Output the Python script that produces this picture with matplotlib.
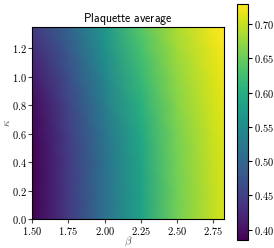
import numpy as np
import matplotlib
matplotlib.use('Agg')
import matplotlib.pyplot as plt
from matplotlib.ticker import FuncFormatter

plt.rcParams['mathtext.fontset'] = 'cm'

# grid: plaquette average vs beta (columns) and kappa (rows)
beta = [1.50, 1.75, 2.00, 2.25, 2.50, 2.75, 2.825]
kappa = [0.0, 0.2, 0.4, 0.6, 0.8, 1.0, 1.2, 1.35]
plaq = [
    [0.385, 0.443, 0.512, 0.582, 0.655, 0.698, 0.707],
    [0.385, 0.443, 0.512, 0.582, 0.655, 0.698, 0.707],
    [0.386, 0.444, 0.513, 0.584, 0.656, 0.699, 0.708],
    [0.388, 0.447, 0.517, 0.590, 0.659, 0.701, 0.710],
    [0.395, 0.454, 0.530, 0.602, 0.665, 0.705, 0.713],
    [0.410, 0.466, 0.543, 0.615, 0.672, 0.710, 0.718],
    [0.428, 0.481, 0.556, 0.628, 0.680, 0.716, 0.724],
    [0.443, 0.493, 0.566, 0.638, 0.686, 0.721, 0.729],
]

xticks = [1.50, 1.75, 2.00, 2.25, 2.50, 2.75]
yticks = [0.0, 0.2, 0.4, 0.6, 0.8, 1.0, 1.2]
cticks = [0.40, 0.45, 0.50, 0.55, 0.60, 0.65, 0.70]


def mfmt(fmt):
    return FuncFormatter(lambda v, p: '$' + fmt.format(v) + '$')


fig = plt.figure(figsize=(2.74, 2.48), dpi=100)
ax = fig.add_axes([0.117, 0.117, 0.701, 0.774])
cax = fig.add_axes([0.865, 0.032, 0.040, 0.952])

B, K = np.meshgrid(beta, kappa)
Z = np.array(plaq)
mesh = ax.pcolormesh(B, K, Z, shading='gouraud', cmap='viridis',
                     vmin=0.385, vmax=0.729)
ax.set_xlim(beta[0], beta[-1])
ax.set_ylim(kappa[0], kappa[-1])
ax.set_xticks(xticks)
ax.set_yticks(yticks)
ax.xaxis.set_major_formatter(mfmt('{:.2f}'))
ax.yaxis.set_major_formatter(mfmt('{:.1f}'))
ax.tick_params(labelsize=7.5, length=3, pad=1, color='#444444')
ax.set_xlabel(r'$\beta$', fontsize=8, color='#555555')
ax.set_ylabel(r'$\kappa$', fontsize=8, color='#555555')
ax.xaxis.set_label_coords(0.5, -0.08)
ax.yaxis.set_label_coords(-0.105, 0.5)
ax.set_title(r'$\mathsf{Plaquette\ average}$', fontsize=8.5, pad=3)

cb = fig.colorbar(mesh, cax=cax, ticks=cticks)
cb.ax.yaxis.set_major_formatter(mfmt('{:.2f}'))
cb.ax.tick_params(labelsize=7.5, length=3, pad=1.5)

fig.savefig('out.png', dpi=100)
